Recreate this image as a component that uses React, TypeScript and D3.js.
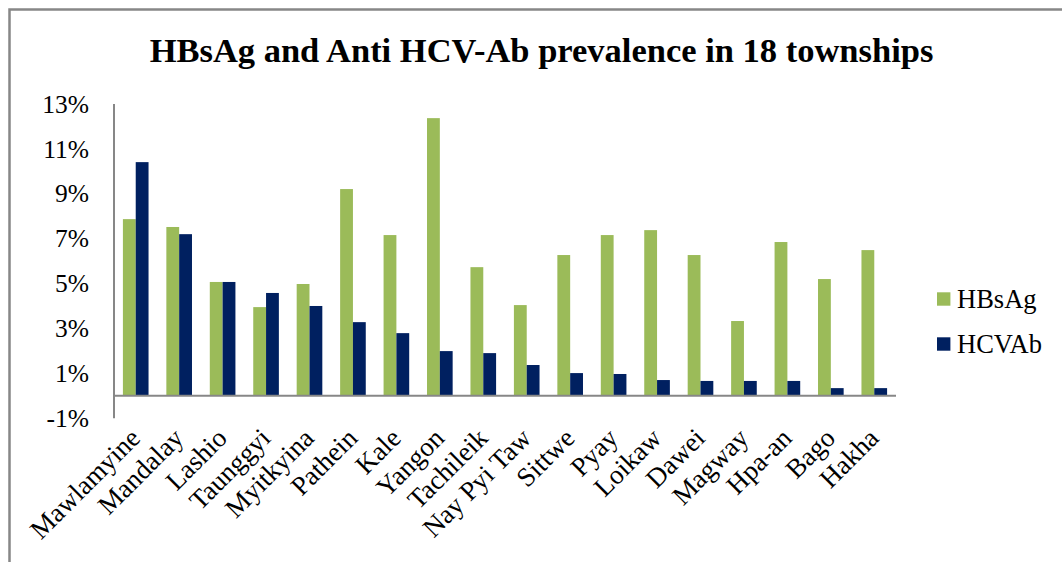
import React from "react";
import * as d3 from "d3";

const townships = ["Mawlamyine","Mandalay","Lashio","Taunggyi","Myitkyina","Pathein","Kale","Yangon","Tachileik","Nay Pyi Taw","Sittwe","Pyay","Loikaw","Dawei","Magway","Hpa-an","Bago","Hakha"];
const hbsag = [7.87,7.52,5.07,3.95,4.98,9.21,7.16,12.37,5.73,4.04,6.27,7.16,7.38,6.27,3.33,6.85,5.2,6.49];
const hcvab = [10.41,7.2,5.07,4.58,4.0,3.28,2.79,1.99,1.9,1.37,1.01,0.97,0.7,0.66,0.66,0.66,0.34,0.34];
const yTicks = [-1,1,3,5,7,9,11,13];
const seriesNames = ["HBsAg","HCVAb"];
const seriesColors = ["#9BBB59","#002060"];
const title = "HBsAg and Anti HCV-Ab prevalence in 18 townships";

const W = 1062, H = 562;
const plotLeft = 114, plotRight = 896;
const FONT = "'Liberation Serif', 'Times New Roman', serif";

export default function App() {
  const y = d3.scaleLinear().domain([-1, 13]).range([418.2, 104]);
  const x = d3.scaleBand<string>().domain(townships).range([plotLeft, plotRight]).paddingInner(0.41).paddingOuter(0.205);
  const sub = d3.scaleBand<string>().domain(seriesNames).range([0, x.bandwidth()]);
  const series = [hbsag, hcvab];
  const y0 = y(0);
  return (
    <svg width={W} height={H} style={{ position: "absolute", left: 0, top: 0, background: "#fff" }} fontFamily={FONT}>
      <rect x={0} y={0} width={W} height={H} fill="#fff" />
      <path d={`M9.5,${H} V9.5 H${W}`} fill="none" stroke="#878787" strokeWidth={2.5} />
      <text x={541.5} y={62} textAnchor="middle" fontSize={34.5} fontWeight="bold">{title}</text>
      {yTicks.map(t => (
        <text key={t} x={89} y={y(t)} dy="0.34em" textAnchor="end" fontSize={25.5}>{`${t}%`}</text>
      ))}
      {series.map((vals, si) => (
        <g key={si}>
          {vals.map((v, i) => (
            <rect key={i}
              x={(x(townships[i]) ?? 0) + (sub(seriesNames[si]) ?? 0)}
              y={y(Math.max(0, v))}
              width={sub.bandwidth()}
              height={Math.abs(y(v) - y0)}
              fill={seriesColors[si]} />
          ))}
        </g>
      ))}
      <line x1={plotLeft} x2={plotLeft} y1={y(13)} y2={y(-1)} stroke="#878787" strokeWidth={2} />
      <line x1={plotLeft} x2={plotRight} y1={y0} y2={y0} stroke="#878787" strokeWidth={2} />
      {townships.map((t, i) => {
        const cx = (x(t) ?? 0) + x.bandwidth() / 2;
        return (
          <text key={t} transform={`translate(${cx + 6},${y0 + 44}) rotate(-45)`} textAnchor="end" fontSize={27}>{t}</text>
        );
      })}
      {seriesNames.map((n, i) => (
        <g key={n} transform={`translate(937,${299 + i * 45})`}>
          <rect x={0} y={-6.7} width={13.4} height={13.4} fill={seriesColors[i]} />
          <text x={20} y={0} dy="0.34em" fontSize={26.5}>{n}</text>
        </g>
      ))}
    </svg>
  );
}
